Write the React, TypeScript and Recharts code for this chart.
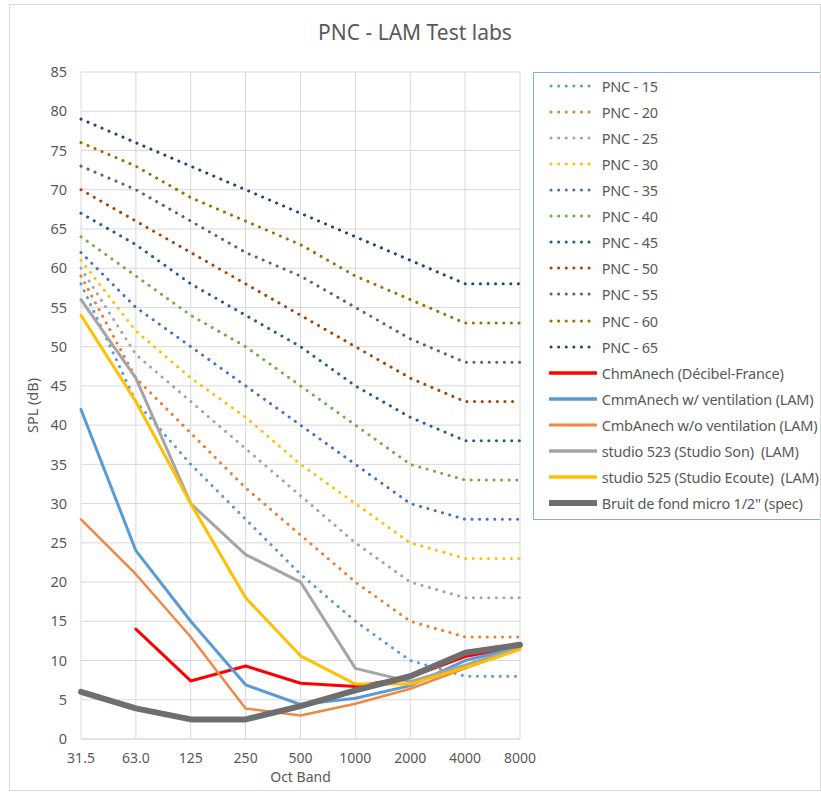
import React from "react";
import {
  LineChart,
  Line,
  XAxis,
  YAxis,
  CartesianGrid,
  Legend,
} from "recharts";

// octave bands
const bands = ["31.5", "63.0", "125", "250", "500", "1000", "2000", "4000", "8000"];
const yTicks = [0, 5, 10, 15, 20, 25, 30, 35, 40, 45, 50, 55, 60, 65, 70, 75, 80, 85];

// PNC reference curves
const pnc15 = [58, 43, 35, 28, 21, 15, 10, 8, 8];
const pnc20 = [59, 46, 39, 32, 26, 20, 15, 13, 13];
const pnc25 = [60, 49, 43, 37, 31, 25, 20, 18, 18];
const pnc30 = [61, 52, 46, 41, 35, 30, 25, 23, 23];
const pnc35 = [62, 55, 50, 45, 40, 35, 30, 28, 28];
const pnc40 = [64, 59, 54, 50, 45, 40, 35, 33, 33];
const pnc45 = [67, 63, 58, 54, 50, 45, 41, 38, 38];
const pnc50 = [70, 66, 62, 58, 54, 50, 46, 43, 43];
const pnc55 = [73, 70, 66, 62, 59, 55, 51, 48, 48];
const pnc60 = [76, 73, 69, 66, 63, 59, 56, 53, 53];
const pnc65 = [79, 76, 73, 70, 67, 64, 61, 58, 58];

// measurements
const chmAnech = [null, 14, 7.4, 9.3, 7.1, 6.7, 7.9, 10.5, 11.8];
const cmmAnech = [42, 24, 15, 6.9, 4.4, 5.2, 6.8, 10, 11.7];
const cmbAnech = [28, 21, 13, 3.9, 3, 4.5, 6.4, 9, 11.5];
const studio523 = [56, 46, 30, 23.5, 20, 9, 7.3, 9.4, 11.7];
const studio525 = [54, 43, 30, 18, 10.6, 7, 7, 9.1, 11.4];
const bruitDeFond = [6, 3.9, 2.5, 2.5, 4.2, 6.2, 8, 11, 12];

type Series = {
  key: string;
  name: string;
  values: (number | null)[];
  color: string;
  width: number;
  dotted?: boolean;
};

const series: Series[] = [
  { key: "pnc15", name: "PNC - 15", values: pnc15, color: "#5b9bd5", width: 3, dotted: true },
  { key: "pnc20", name: "PNC - 20", values: pnc20, color: "#ed7d31", width: 3, dotted: true },
  { key: "pnc25", name: "PNC - 25", values: pnc25, color: "#a5a5a5", width: 3, dotted: true },
  { key: "pnc30", name: "PNC - 30", values: pnc30, color: "#ffc000", width: 3, dotted: true },
  { key: "pnc35", name: "PNC - 35", values: pnc35, color: "#4472c4", width: 3, dotted: true },
  { key: "pnc40", name: "PNC - 40", values: pnc40, color: "#70ad47", width: 3, dotted: true },
  { key: "pnc45", name: "PNC - 45", values: pnc45, color: "#255e91", width: 3, dotted: true },
  { key: "pnc50", name: "PNC - 50", values: pnc50, color: "#9e480e", width: 3, dotted: true },
  { key: "pnc55", name: "PNC - 55", values: pnc55, color: "#636363", width: 3, dotted: true },
  { key: "pnc60", name: "PNC - 60", values: pnc60, color: "#997300", width: 3, dotted: true },
  { key: "pnc65", name: "PNC - 65", values: pnc65, color: "#264478", width: 3, dotted: true },
  { key: "chm", name: "ChmAnech (Décibel-France)", values: chmAnech, color: "#ff0000", width: 3 },
  { key: "cmm", name: "CmmAnech w/ ventilation (LAM)", values: cmmAnech, color: "#5b9bd5", width: 3 },
  { key: "cmb", name: "CmbAnech w/o ventilation (LAM)", values: cmbAnech, color: "#ef8844", width: 2.5 },
  { key: "s523", name: "studio 523 (Studio Son)  (LAM)", values: studio523, color: "#a5a5a5", width: 3 },
  { key: "s525", name: "studio 525 (Studio Ecoute)  (LAM)", values: studio525, color: "#ffc000", width: 3 },
  { key: "bruit", name: "Bruit de fond micro 1/2\" (spec)", values: bruitDeFond, color: "#6e6e6e", width: 6 },
];

const rows = bands.map((band, i) => {
  const row: Record<string, any> = { band };
  series.forEach((s) => {
    row[s.key] = s.values[i];
  });
  return row;
});

const font = "'Noto Sans', sans-serif";
const textColor = "#595959";
const gridColor = "#d9d9d9";
const DOTS = "0.1 7.5";

const LegendBox = () => (
  <div
    style={{
      boxSizing: "border-box",
      width: 288,
      height: 448,
      border: "1.5px solid #7fb2e2",
      background: "#fff",
      fontFamily: font,
      fontSize: 14.5,
      color: textColor,
    }}
  >
    {series.map((s) => (
      <div
        key={s.key}
        style={{ display: "flex", alignItems: "center", height: 26.1, paddingLeft: 15, overflow: "hidden" }}
      >
        <svg width={48} height={8} style={{ flex: "none" }}>
          <line
            x1={s.dotted ? 2 : 1}
            y1={4}
            x2={47}
            y2={4}
            stroke={s.color}
            strokeWidth={s.dotted ? 3 : Math.min(s.width + 0.5, 6)}
            strokeLinecap="round"
            strokeDasharray={s.dotted ? DOTS : undefined}
          />
        </svg>
        <span style={{ marginLeft: 5, whiteSpace: "pre", letterSpacing: -0.2 }}>{s.name}</span>
      </div>
    ))}
  </div>
);

export default function App() {
  return (
    <div
      style={{
        position: "absolute",
        left: 9,
        top: 4,
        width: 812,
        height: 787,
        boxSizing: "border-box",
        border: `1px solid ${gridColor}`,
        background: "#fff",
        overflow: "hidden",
      }}
    >
      <div
        style={{
          position: "absolute",
          left: 0,
          width: 810,
          top: 13,
          textAlign: "center",
          fontFamily: font,
          fontSize: 21,
          color: textColor,
        }}
      >
        PNC - LAM Test labs
      </div>
      <LineChart
        width={810}
        height={785}
        data={rows}
        margin={{ top: 67, right: 300, bottom: 21, left: 0 }}
      >
        <CartesianGrid stroke={gridColor} strokeWidth={1} />
        <XAxis
          dataKey="band"
          height={30}
          tickLine={false}
          axisLine={{ stroke: gridColor }}
          tickSize={6}
          tickMargin={8}
          interval={0}
          tick={{ fontFamily: font, fontSize: 14, fill: textColor }}
          label={{
            value: "Oct Band",
            position: "bottom",
            offset: 3,
            style: { fontFamily: font, fontSize: 14, fill: textColor },
          }}
        />
        <YAxis
          width={71}
          domain={[0, 85]}
          ticks={yTicks}
          interval={0}
          tickLine={false}
          axisLine={false}
          tickSize={6}
          tickMargin={8}
          tick={{ fontFamily: font, fontSize: 14.5, fill: textColor }}
          label={{
            value: "SPL (dB)",
            angle: -90,
            position: "insideLeft",
            offset: 23,
            textAnchor: "middle",
            style: { fontFamily: font, fontSize: 14.5, fill: textColor, textAnchor: "middle" },
          }}
        />
        <Legend
          layout="horizontal"
          align="center"
          verticalAlign="middle"
          wrapperStyle={{ left: 522.7, top: 66.7, width: 288, height: 448 }}
          content={() => <LegendBox />}
        />
        {series.map((s) => (
          <Line
            key={s.key}
            type="linear"
            dataKey={s.key}
            name={s.name}
            stroke={s.color}
            strokeWidth={s.dotted ? 3 : s.width}
            strokeDasharray={s.dotted ? DOTS : undefined}
            strokeLinecap="round"
            strokeLinejoin="round"
            dot={false}
            activeDot={false}
            isAnimationActive={false}
          />
        ))}
      </LineChart>
    </div>
  );
}
